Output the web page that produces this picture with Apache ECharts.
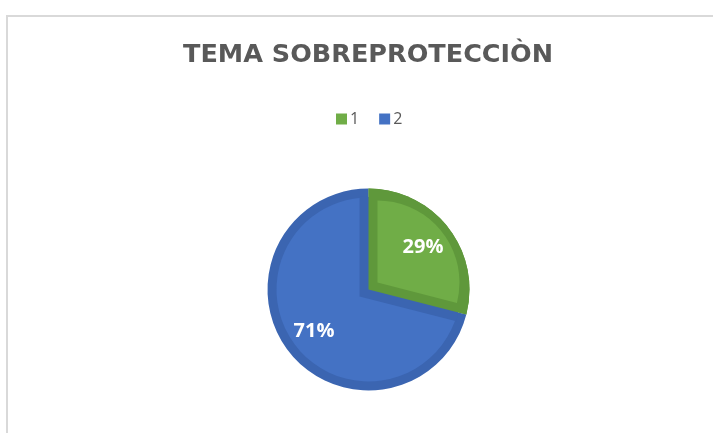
<!DOCTYPE html>
<html>
<head>
<meta charset="utf-8">
<script src="https://cdn.jsdelivr.net/npm/echarts@6/dist/echarts.min.js"></script>
<style>
html, body { margin: 0; padding: 0; overflow: hidden; background: #fff; }
#frame { position: absolute; left: 6px; top: 15px; width: 730px; height: 440px;
         border-left: 2px solid #d9d9d9; border-top: 2px solid #d9d9d9; }
#main { position: absolute; left: 0; top: 0; width: 713px; height: 433px; }
</style>
</head>
<body>
<div id="frame"></div>
<div id="main"></div>
<script>
// datos del gráfico
var categories = ['1', '2'];
var values = [29, 71];
var fillColors = ['#70ad47', '#4472c4'];
var rimColors = ['#5f983b', '#3b65b1'];

var myChart = echarts.init(document.getElementById('main'));

// geometría del pastel (borde interior oscuro estilo Excel)
var cx = 368.5, cy = 289.5, R = 101, rim = 9;
var total = values[0] + values[1];
var half = Math.PI * values[0] / total;      // mitad del ángulo de la porción 1
var phi = Math.PI / 2 - half;                 // bisectriz (empieza arriba, sentido horario)
var ux = Math.cos(phi), uy = -Math.sin(phi);
var shift = rim / Math.sin(half);
var clear = 'rgba(0,0,0,0)';

function items(cols) {
    return categories.map(function (c, i) {
        return { name: c, value: values[i], itemStyle: { color: cols[i] } };
    });
}

function layer(center, radius, cols) {
    return {
        type: 'pie',
        silent: true,
        animation: false,
        startAngle: 90,
        clockwise: true,
        center: center,
        radius: radius,
        itemStyle: { borderWidth: 0 },
        label: { show: false },
        labelLine: { show: false },
        emphasis: { disabled: true },
        data: items(cols)
    };
}

var labels = layer([cx, cy], [30, 102], [clear, clear]);
labels.label = {
    show: true,
    position: 'inside',
    formatter: '{d}%',
    color: '#ffffff',
    fontFamily: 'Open Sans',
    fontWeight: 'bold',
    fontSize: 20
};

option = {
    backgroundColor: 'transparent',
    title: {
        text: 'TEMA SOBREPROTECCIÒN',
        left: 178,
        top: 37,
        textStyle: {
            fontFamily: 'DejaVu Sans',
            fontWeight: 'bold',
            fontSize: 25.5,
            color: '#595959'
        }
    },
    legend: {
        top: 106,
        left: 331,
        icon: 'rect',
        itemWidth: 11,
        itemHeight: 11,
        itemGap: 20,
        selectedMode: false,
        textStyle: { fontFamily: 'Open Sans', fontSize: 16, color: '#595959', padding: [0, 0, 0, -2] },
        data: categories.map(function (c, i) {
            return { name: c, itemStyle: { color: fillColors[i] } };
        })
    },
    series: [
        layer([cx, cy], R, rimColors),
        layer([cx, cy], R - rim, [fillColors[1], fillColors[1]]),
        layer([cx - ux * shift, cy - uy * shift], R - 1, [rimColors[1], clear]),
        layer([cx, cy], R, [rimColors[0], clear]),
        layer([cx + ux * shift, cy + uy * shift], R - rim - 10, [fillColors[0], clear]),
        labels
    ]
};

myChart.setOption(option);
</script>
</body>
</html>
